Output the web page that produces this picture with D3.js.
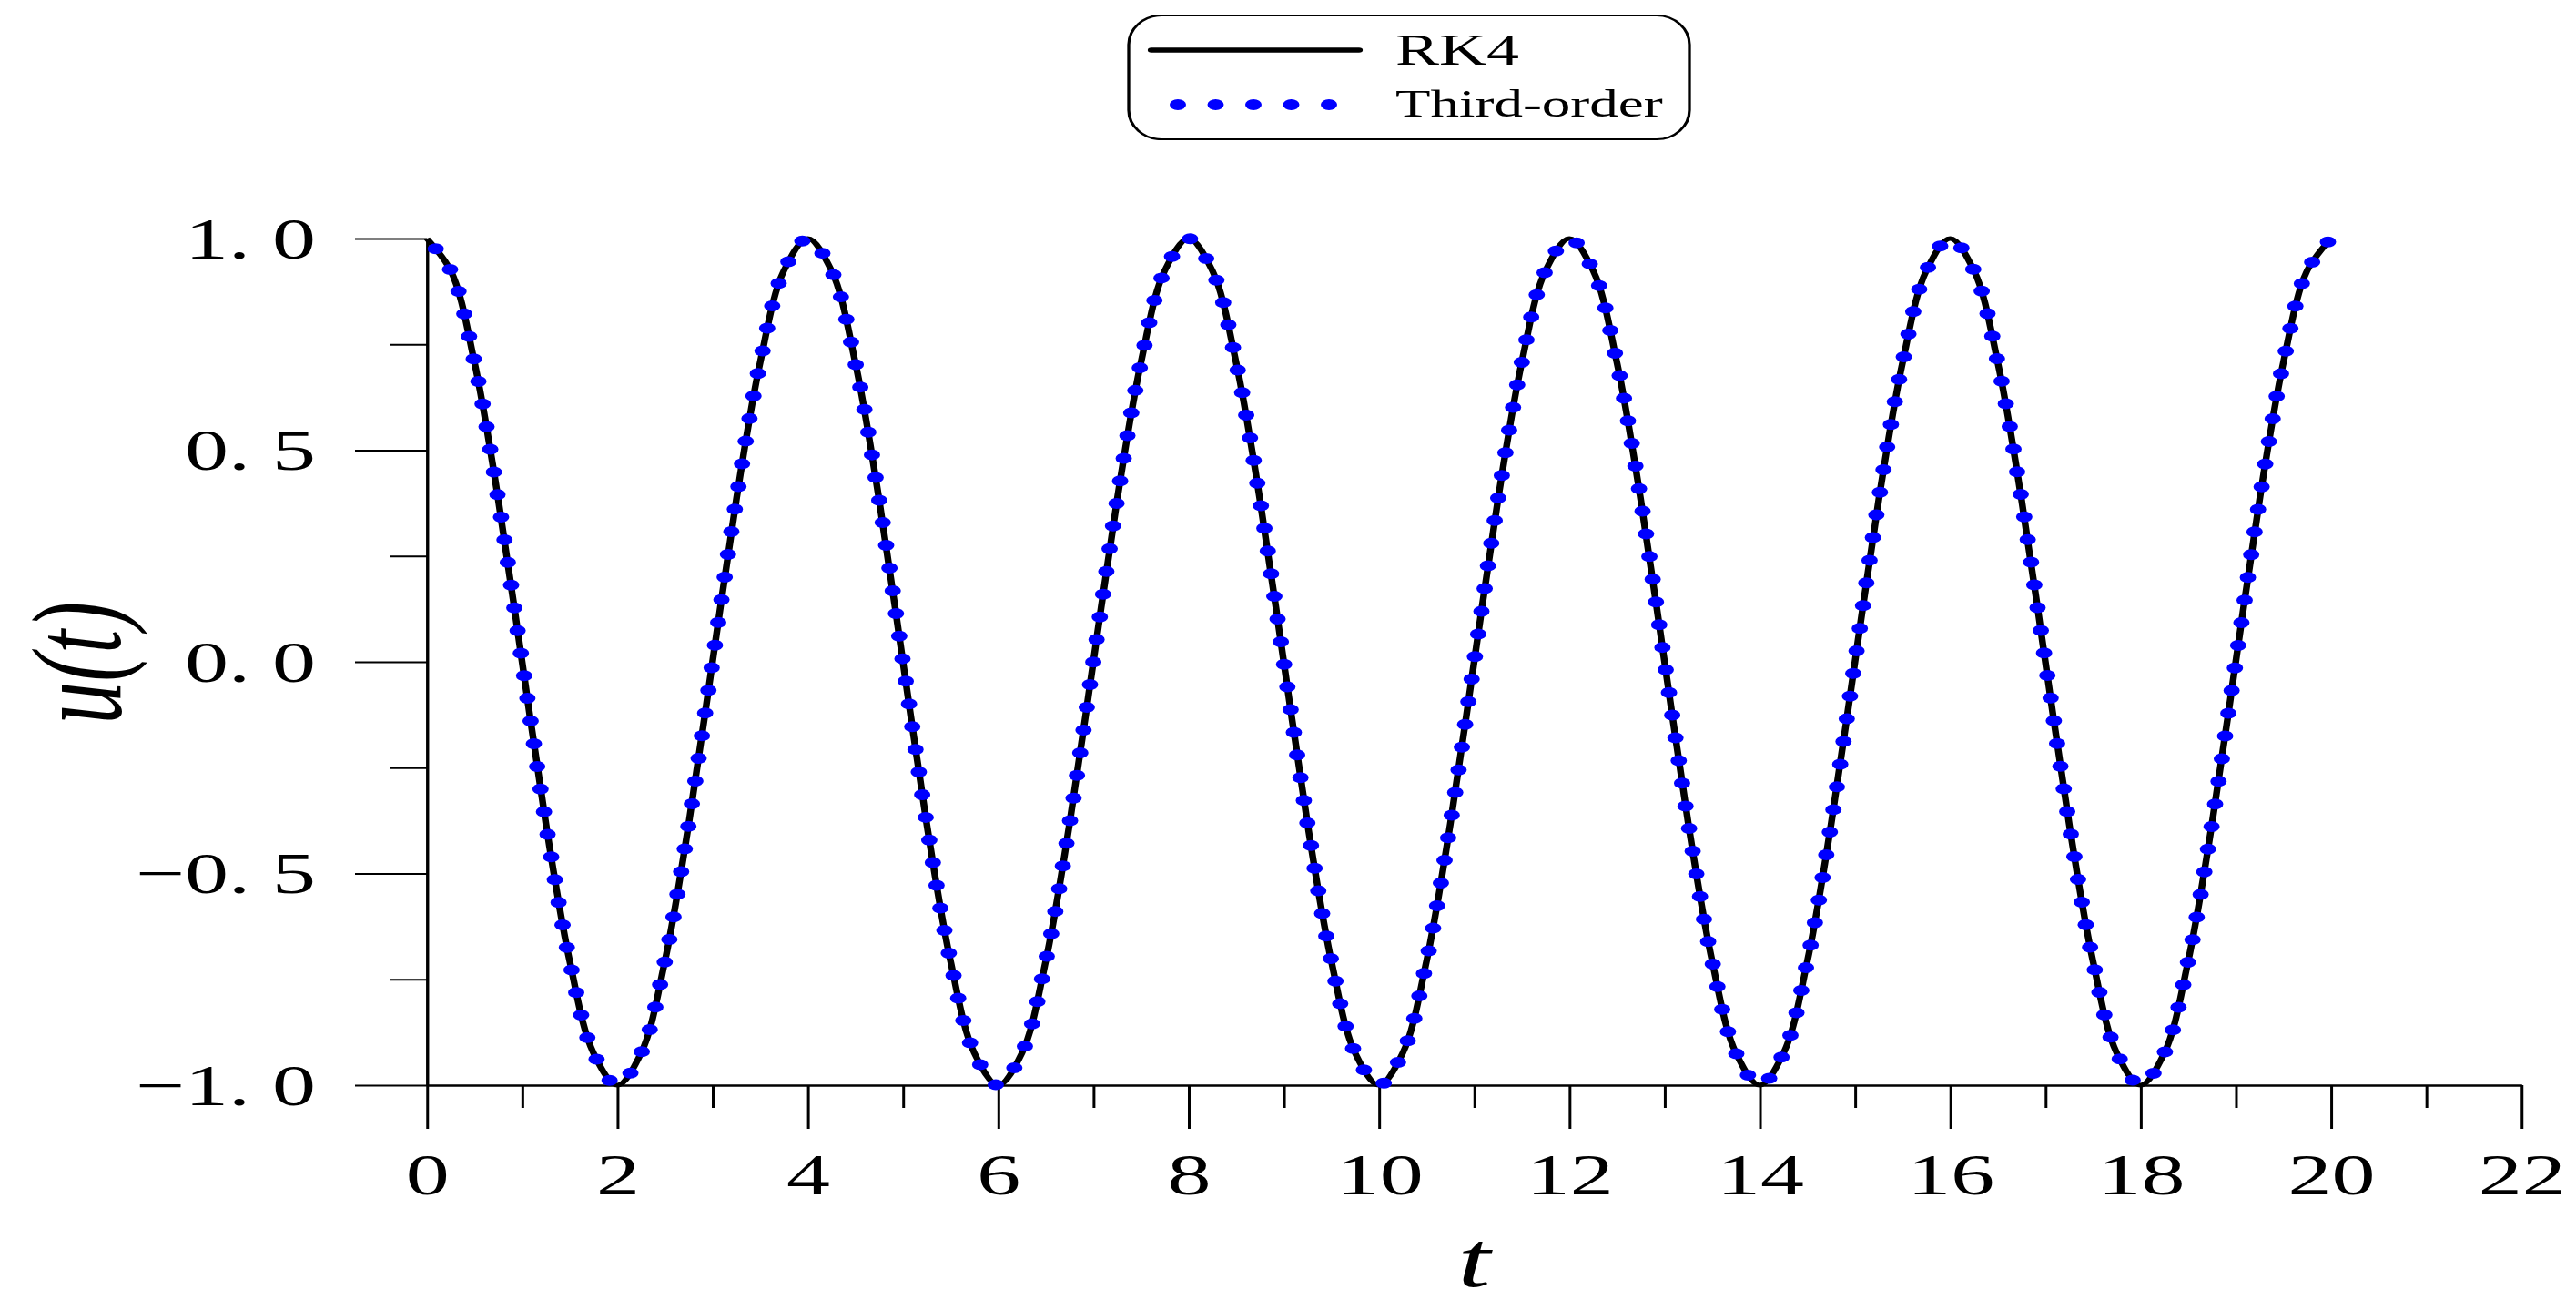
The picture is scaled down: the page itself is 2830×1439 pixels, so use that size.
<!DOCTYPE html>
<html>
<head>
<meta charset="utf-8">
<script src="https://cdn.jsdelivr.net/npm/d3@7"></script>
<style>
  html, body { margin: 0; padding: 0; background: #ffffff; }
  svg { display: block; }
</style>
</head>
<body>
<script>
// ---- data ----
const tValues = [0,0.25,0.5,0.75,1,1.25,1.5,1.75,2,2.25,2.5,2.75,3,3.25,3.5,3.75,
  4,4.25,4.5,4.75,5,5.25,5.5,5.75,6,6.25,6.5,6.75,7,7.25,7.5,7.75,
  8,8.25,8.5,8.75,9,9.25,9.5,9.75,10,10.25,10.5,10.75,11,11.25,11.5,11.75,
  12,12.25,12.5,12.75,13,13.25,13.5,13.75,14,14.25,14.5,14.75,15,15.25,15.5,15.75,
  16,16.25,16.5,16.75,17,17.25,17.5,17.75,18,18.25,18.5,18.75,19,19.25,19.5,19.75,20];

const rk4Values = [
  1,0.924,0.707,0.383,0,-0.383,-0.707,-0.924,-1,-0.924,-0.707,-0.383,0,0.383,0.707,0.924,
  1,0.924,0.707,0.383,0,-0.383,-0.707,-0.924,-1,-0.924,-0.707,-0.383,0,0.383,0.707,0.924,
  1,0.924,0.707,0.383,0,-0.383,-0.707,-0.924,-1,-0.924,-0.707,-0.383,0,0.383,0.707,0.924,
  1,0.924,0.707,0.383,0,-0.383,-0.707,-0.924,-1,-0.924,-0.707,-0.383,0,0.383,0.707,0.924,
  1,0.924,0.707,0.383,0,-0.383,-0.707,-0.924,-1,-0.924,-0.707,-0.383,0,0.383,0.707,0.924,
  1];

const thirdOrderValues = [
  1,0.924,0.707,0.383,0,-0.383,-0.707,-0.924,-1,-0.924,-0.707,-0.383,0,0.383,0.707,0.924,
  1,0.924,0.707,0.383,0,-0.383,-0.707,-0.924,-1,-0.924,-0.707,-0.383,0,0.383,0.707,0.924,
  1,0.924,0.707,0.383,0,-0.383,-0.707,-0.924,-1,-0.924,-0.707,-0.383,0,0.383,0.707,0.924,
  1,0.924,0.707,0.383,0,-0.383,-0.707,-0.924,-1,-0.924,-0.707,-0.383,0,0.383,0.707,0.924,
  1,0.924,0.707,0.383,0,-0.383,-0.707,-0.924,-1,-0.924,-0.707,-0.383,0,0.383,0.707,0.924,
  1];

const seriesNames = ["RK4", "Third-order"];
const xTickValues = [0,2,4,6,8,10,12,14,16,18,20,22];
const xMinorTickValues = [1,3,5,7,9,11,13,15,17,19,21];
const yTickValues = [-1,-0.5,0,0.5,1];
const yTickLabels = ["\u22121. 0","\u22120. 5","0. 0","0. 5","1. 0"];
const yMinorTickValues = [-0.75,-0.25,0.25,0.75];
const xTitle = "t";
const yTitleText = "u(t)";

// ---- layout ----
const W = 2830, H = 1439;
const SX = 1.5;                // the reference is stretched horizontally
const fx = v => v / SX;        // full-pixel x -> local x
const FONT = "'Liberation Serif','Times New Roman',serif";

const svg = d3.select("body").append("svg")
  .attr("width", W).attr("height", H)
  .attr("viewBox", `0 0 ${W} ${H}`);

const root = svg.append("g").attr("transform", `scale(${SX},1)`);

const x = d3.scaleLinear().domain([0, 22]).range([fx(469), fx(2770)]);
const y = d3.scaleLinear().domain([-1, 1]).range([1192, 262]);

// ---- axes ----
const axisStroke = 2;

const xMinor = root.append("g").attr("transform", `translate(0,${y(-1)})`)
  .call(d3.axisBottom(x).tickValues(xMinorTickValues).tickSize(25).tickSizeOuter(0).tickFormat(""));
const xMajor = root.append("g").attr("transform", `translate(0,${y(-1)})`)
  .call(d3.axisBottom(x).tickValues(xTickValues).tickSize(48).tickSizeOuter(0).tickFormat(d3.format("d")));

const yMinor = root.append("g").attr("transform", `translate(${x(0)},0)`)
  .call(d3.axisLeft(y).tickValues(yMinorTickValues).tickSize(fx(40)).tickSizeOuter(0).tickFormat(""));
const yMajor = root.append("g").attr("transform", `translate(${x(0)},0)`)
  .call(d3.axisLeft(y).tickValues(yTickValues).tickSize(fx(79)).tickSizeOuter(0)
    .tickPadding(fx(122) - fx(79))
    .tickFormat((d, i) => yTickLabels[i]));

[xMinor, xMajor, yMinor, yMajor].forEach(g => {
  g.selectAll("path.domain").attr("stroke", "#000").attr("stroke-width", axisStroke);
  g.selectAll(".tick line").attr("stroke", "#000").attr("stroke-width", axisStroke);
  g.attr("font-family", null).attr("font-size", null);
});

xMajor.selectAll(".tick text")
  .attr("y", 120).attr("dy", 0)
  .attr("fill", "#000")
  .style("font-family", FONT).style("font-size", "64px");

yMajor.selectAll(".tick text")
  .attr("dy", "0.33em")
  .attr("fill", "#000")
  .style("font-family", FONT).style("font-size", "64px");

// ---- series ----
const line = d3.line()
  .x(d => x(d[0]))
  .y(d => y(d[1]))
  .curve(d3.curveCatmullRom.alpha(0.5));

const rk4Data = tValues.map((t, i) => [t, rk4Values[i]]);
const thirdData = tValues.map((t, i) => [t, thirdOrderValues[i]]);

root.append("path")
  .datum(rk4Data)
  .attr("d", line)
  .attr("fill", "none")
  .attr("stroke", "#000")
  .attr("stroke-width", 5)
  .attr("stroke-linejoin", "round");

root.append("path")
  .datum(thirdData)
  .attr("d", line)
  .attr("fill", "none")
  .attr("stroke", "#0000ff")
  .attr("stroke-width", 12)
  .attr("stroke-linecap", "round")
  .attr("stroke-dasharray", "0 25")
  .attr("stroke-dashoffset", 12);

// ---- axis titles ----
root.append("text")
  .attr("transform", `translate(${fx(132)},728) rotate(-90)`)
  .attr("text-anchor", "middle")
  .style("font-family", FONT)
  .style("font-size", "93px")
  .style("font-style", "italic")
  .attr("fill", "#000")
  .text(yTitleText);

root.append("text")
  .attr("x", x(11))
  .attr("y", 1413)
  .attr("text-anchor", "middle")
  .style("font-family", FONT)
  .style("font-size", "86px")
  .style("font-style", "italic")
  .attr("fill", "#000")
  .text(xTitle);

// ---- legend ----
const leg = root.append("g");
leg.append("rect")
  .attr("x", fx(1240)).attr("y", 17)
  .attr("width", fx(1856) - fx(1240)).attr("height", 136)
  .attr("rx", 24).attr("ry", 32)
  .attr("fill", "#fff").attr("stroke", "#000").attr("stroke-width", 2.2);

leg.append("line")
  .attr("x1", fx(1265)).attr("x2", fx(1493))
  .attr("y1", 55).attr("y2", 55)
  .attr("stroke", "#000").attr("stroke-width", 5.5).attr("stroke-linecap", "round");

leg.append("line")
  .attr("x1", fx(1294)).attr("x2", fx(1461))
  .attr("y1", 115).attr("y2", 115)
  .attr("stroke", "#0000ff").attr("stroke-width", 12).attr("stroke-linecap", "round")
  .attr("stroke-dasharray", `0 ${fx(41.5)}`);

leg.append("text")
  .attr("x", fx(1533)).attr("y", 71)
  .style("font-family", FONT).style("font-size", "48px")
  .attr("fill", "#000")
  .text(seriesNames[0]);

leg.append("text")
  .attr("x", fx(1533)).attr("y", 128)
  .style("font-family", FONT).style("font-size", "42px")
  .attr("fill", "#000")
  .text(seriesNames[1]);
</script>
</body>
</html>
